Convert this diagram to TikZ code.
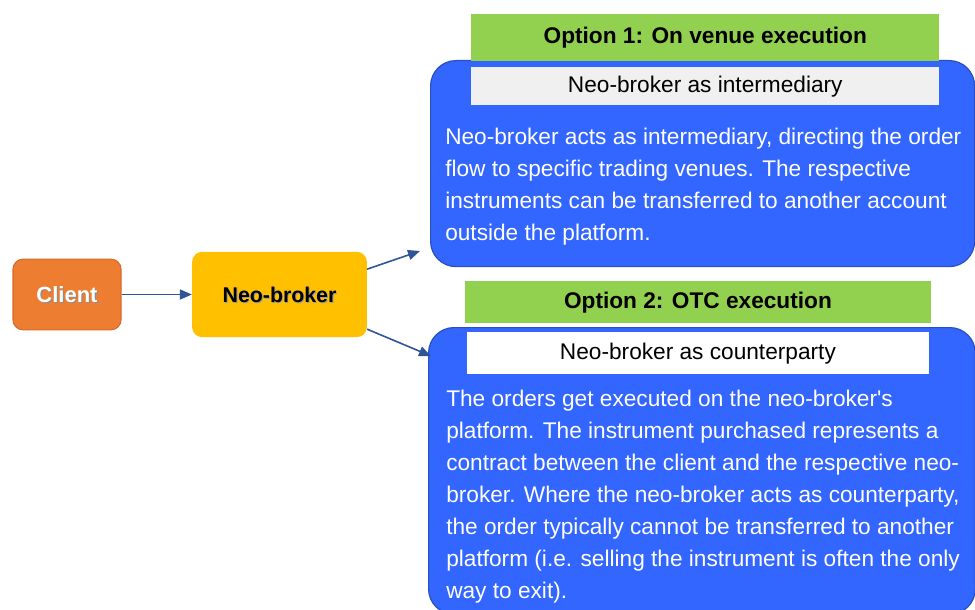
\documentclass[tikz,border=0pt]{standalone}
\usepackage{fontspec}
\setmainfont{Liberation Sans}[Ligatures=TeXOff]
\usetikzlibrary{arrows.meta}
\definecolor{corange}{HTML}{ED7D31}
\definecolor{corangeb}{HTML}{D8692A}
\definecolor{cgold}{HTML}{FFC000}
\definecolor{cblue}{HTML}{3366FF}
\definecolor{cblueb}{HTML}{2A4FBF}
\definecolor{cgreen}{HTML}{92D050}
\definecolor{cgrey}{HTML}{F0F0F0}
\definecolor{carrow}{HTML}{2F5597}
\tikzset{
  pbox/.style={rounded corners=7.5pt, inner sep=0pt},
  bigbox/.style={draw=cblueb, line width=0.9pt, fill=cblue, rounded corners=19pt},
  hdr/.style={fill=cgreen, inner sep=0pt, font=\fontsize{17}{20}\selectfont\bfseries},
  sub/.style={inner sep=0pt, font=\fontsize{17}{20}\selectfont},
  body/.style={inner sep=0pt, text=white, align=left, anchor=north west, font=\fontsize{17}{24}\selectfont},
  arr/.style={draw=carrow, line width=1.2pt, -{Triangle[length=9pt,width=7.5pt]}}
}
\begin{document}
\begin{tikzpicture}[x=0.75pt,y=-0.75pt]
\useasboundingbox (0,0) rectangle (975,610);
\clip (0,0) rectangle (975,610);
% client and neo-broker
\node[pbox, draw=corangeb, line width=0.8pt, fill=corange, minimum width=81pt, minimum height=53pt] (client) at (67,294.5) {};
\node[text=black!45, font=\fontsize{16.5}{18}\selectfont\bfseries] at ([xshift=0.8pt,yshift=-0.8pt]client.center) {Client};
\node[text=white, font=\fontsize{16.5}{18}\selectfont\bfseries] (clienttxt) at (client.center) {Client};
\node[pbox, fill=cgold, minimum width=131pt, minimum height=64pt] (neo) at (279.5,294.5) {};
\node[text=black!40, font=\fontsize{16}{18}\selectfont\bfseries] at ([xshift=0.7pt,yshift=-0.7pt]neo.center) {Neo-broker};
\node[text=black, font=\fontsize{16}{18}\selectfont\bfseries] (neotxt) at (neo.center) {Neo-broker};
% option 1
\node[bigbox, anchor=north west, minimum width=408pt, minimum height=154.5pt, inner sep=0pt] (box1) at (430,60) {};
\node[hdr, anchor=north west, minimum width=351pt, minimum height=35pt] (hdr1) at (471,14) {Option 1: On venue execution};
\node[sub, fill=cgrey, anchor=north west, minimum width=351pt, minimum height=28.5pt] (sub1) at (471,67) {Neo-broker as intermediary};
\node[body] (body1) at (445,128) {Neo-broker acts as intermediary, directing the order\\flow to specific trading venues. The respective\\instruments can be transferred to another account\\outside the platform.};
% option 2
\node[bigbox, anchor=north west, minimum width=410pt, minimum height=215pt, inner sep=0pt] (box2) at (428,327) {};
\node[hdr, anchor=north west, minimum width=349pt, minimum height=31.5pt] (hdr2) at (465,281) {Option 2: OTC execution};
\node[sub, fill=white, anchor=north west, minimum width=346pt, minimum height=31.5pt] (sub2) at (467,332) {Neo-broker as counterparty};
\node[body] (body2) at (446,390) {The orders get executed on the neo-broker's\\platform. The instrument purchased represents a\\contract between the client and the respective neo-\\broker. Where the neo-broker acts as counterparty,\\the order typically cannot be transferred to another\\platform (i.e. selling the instrument is often the only\\way to exit).};
% connectors
\coordinate (a1) at (420,251);
\coordinate (a2) at (431,356);
\draw[arr] (client.east) -- (neo.west);
\draw[arr] ([yshift=19pt]neo.east) -- (a1);
\draw[arr] ([yshift=-26pt]neo.east) -- (a2);
\end{tikzpicture}
\end{document}
